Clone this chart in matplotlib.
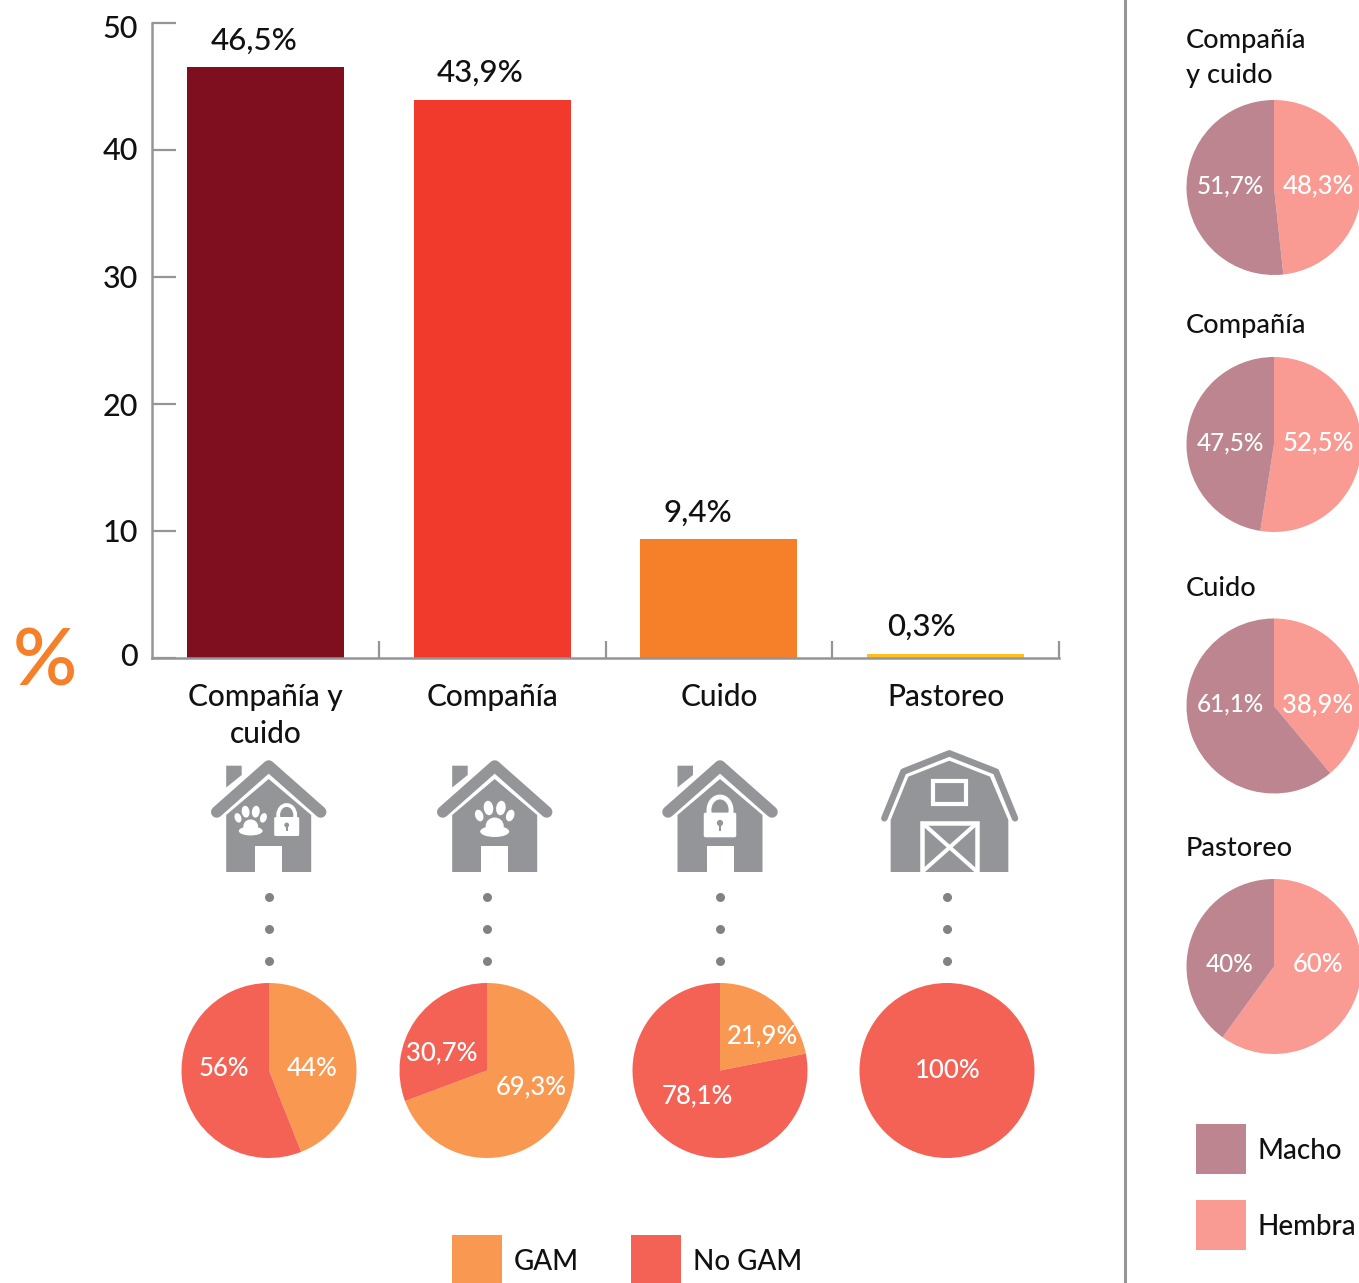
import matplotlib
matplotlib.use("Agg")
import matplotlib.pyplot as plt
from matplotlib.patches import Polygon, Rectangle, Ellipse, Circle, FancyBboxPatch
from matplotlib.transforms import ScaledTranslation

plt.rcParams["font.family"] = ["Lato", "DejaVu Sans"]
plt.rcParams["font.weight"] = "medium"

W, H = 1359, 1283
GREY = "#939598"
DOT = "#808285"
TXT = "#111111"

# ── data ──
categories = ["Compañía y\ncuido", "Compañía", "Cuido", "Pastoreo"]
uso = [46.5, 43.9, 9.4, 0.3]
uso_labels = ["46,5%", "43,9%", "9,4%", "0,3%"]
bar_colors = ["#7F0F1F", "#F13A2B", "#F58029", "#FDC01E"]
y_ticks = [0, 10, 20, 30, 40, 50]

gam = [44, 69.3, 21.9, 0]
no_gam = [56, 30.7, 78.1, 100]
gam_labels = ["44%", "69,3%", "21,9%", ""]
no_gam_labels = ["56%", "30,7%", "78,1%", "100%"]

sex_titles = ["Compañía\ny cuido", "Compañía", "Cuido", "Pastoreo"]
hembra = [48.3, 52.5, 38.9, 60]
macho = [51.7, 47.5, 61.1, 40]
hembra_labels = ["48,3%", "52,5%", "38,9%", "60%"]
macho_labels = ["51,7%", "47,5%", "61,1%", "40%"]

GAM_C, NOGAM_C = "#F99851", "#F46155"
HEMBRA_C, MACHO_C = "#F99A93", "#BC858F"

fig = plt.figure(figsize=(W / 100, H / 100), dpi=100, facecolor="white")

# ── bars ──
ax = fig.add_axes([152 / W, (H - 658) / H, 907 / W, 635 / H])
ax.bar(range(4), uso, width=0.693, color=bar_colors)
ax.set_xlim(-0.5, 3.5)
ax.set_ylim(0, 50)
ax.spines[["top", "right"]].set_visible(False)
ax.spines[["left", "bottom"]].set_color(GREY)
ax.spines[["left", "bottom"]].set_linewidth(1.8)
ax.set_yticks(y_ticks)
ax.tick_params(axis="y", direction="in", length=17, width=1.6, color=GREY,
               labelsize=22, labelcolor=TXT, pad=10)
for lab, dy in zip(ax.get_yticklabels(), [-3, -1, 0, 0, -1, 3]):
    lab.set_transform(lab.get_transform() + ScaledTranslation(0, -dy / 100, fig.dpi_scale_trans))
ax.set_xticks([0.5, 1.5, 2.5, 3.5])
ax.set_xticklabels([])
ax.tick_params(axis="x", which="major", direction="in", length=12, width=1.6, color=GREY)
ax.set_xticks(range(4), categories, minor=True)
ax.tick_params(axis="x", which="minor", length=0, labelsize=21.5, labelcolor=TXT, pad=18)
for lab in ax.get_xticklabels(minor=True):
    lab.set_linespacing(1.4)
    lab.set_verticalalignment("top")

# ── overlay in pixel coordinates ──
ov = fig.add_axes([0, 0, 1, 1], facecolor="none")


def Y(y):
    return H - y


def pie_at(vals, cols, cx, cy, r=87.5):
    ov.pie(vals, colors=cols, startangle=90, counterclock=False,
           center=(cx, Y(cy)), radius=r, frame=True)


def put(x, y, s, size=21.5, color=TXT, ha="center", **kw):
    ov.text(x, Y(y), s, fontsize=size, color=color, ha=ha, va="center", **kw)


def poly(pts, fc=GREY, **kw):
    ov.add_patch(Polygon([(x, Y(y)) for x, y in pts], closed=True, fc=fc, ec="none", **kw))


def stroke(pts, color=GREY, px=5, cap="round", join="round"):
    ov.plot([p[0] for p in pts], [Y(p[1]) for p in pts], color=color, lw=px * 0.72,
            solid_capstyle=cap, solid_joinstyle=join)


def draw_paw(cx, cy, s=1.0):
    ov.add_patch(Ellipse((cx, Y(cy + 12.5 * s)), 29 * s, 11 * s, fc="white", ec="none"))
    ov.add_patch(Ellipse((cx, Y(cy + 7 * s)), 18 * s, 17 * s, fc="white", ec="none"))
    for dx, dy, w, h, ang in [(-15.5, -3.5, 8, 12, 20), (-6.2, -11, 9.5, 14.5, 8),
                              (6.2, -11, 9.5, 14.5, -8), (15.5, -3.5, 8, 12, -20)]:
        ov.add_patch(Ellipse((cx + dx * s, Y(cy + dy * s)), w * s, h * s, angle=ang, fc="white", ec="none"))


def draw_lock(cx, top, s=1.0):
    # shackle + body + keyhole
    ov.add_patch(Ellipse((cx, Y(top + 10 * s)), 17 * s, 20 * s, fc="none", ec="white", lw=3 * s * 0.9))
    ov.add_patch(FancyBboxPatch((cx - 12.5 * s, Y(top + 31 * s)), 25 * s, 19 * s,
                                boxstyle=f"round,pad=0,rounding_size={1.5 * s}", fc="white", ec="none"))
    ov.add_patch(Circle((cx, Y(top + 20 * s)), 2.4 * s, fc=GREY, ec="none"))
    ov.add_patch(Rectangle((cx - 1.1 * s, Y(top + 26 * s)), 2.2 * s, 6 * s, fc=GREY, ec="none"))


def draw_house(cx):
    poly([(cx - 42.5, 765.7), (cx - 27, 765.7), (cx - 27, 775), (cx - 42.5, 787.5)])
    stroke([(cx - 52, 812), (cx, 766), (cx + 52, 812)], px=11.5)
    poly([(cx - 42.5, 815), (cx, 779), (cx + 42.5, 815), (cx + 42.5, 872), (cx - 42.5, 872)])
    ov.add_patch(Rectangle((cx - 13.5, Y(872)), 27, 26, fc="white", ec="none"))


def zb(x, y):
    return 640 + x / 3, 740 + y / 3


def draw_barn():
    stroke([zb(733, 235), zb(790, 95), zb(928, 40), zb(1068, 95), zb(1125, 235)], px=6.5)
    poly([zb(752, 240), zb(805, 110), zb(928, 62), zb(1050, 110), zb(1105, 240), zb(1105, 396), zb(752, 396)])
    x0, y0 = zb(880, 192)
    x1, y1 = zb(979, 124)
    ov.add_patch(Rectangle((x0, Y(y0)), x1 - x0, y0 - y1, fc="none", ec="white", lw=3))
    x0, y0 = zb(846, 396)
    x1, y1 = zb(1012, 248)
    stroke([(x0, y0), (x0, y1), (x1, y1), (x1, y0)], color="white", px=4.5, cap="butt", join="miter")
    stroke([(x0, y1), (x1, y0)], color="white", px=4, cap="butt")
    stroke([(x0, y0), (x1, y1)], color="white", px=4, cap="butt")


# ── icons ──
draw_house(268.7)
draw_paw(250.7, 820.7, 0.82)
draw_lock(286.7, 805, 1.0)
draw_house(494.7)
draw_paw(494.7, 819, 1.0)
draw_house(720)
draw_lock(720, 797, 1.3)
draw_barn()

# ── GAM pies ──
pie_x = [269, 487, 720, 947]
for x in pie_x:
    ov.scatter([x, x, x], [Y(897), Y(929), Y(961)], s=42, color=DOT, linewidths=0)
for i, x in enumerate(pie_x):
    pie_at([gam[i], no_gam[i]], [GAM_C, NOGAM_C], x, 1070.5)

gam_pos = [(312, 1069), (531, 1087), (762, 1036), None]
no_gam_pos = [(224, 1069), (442, 1053), (697, 1096), (947, 1071)]
for i in range(4):
    if gam_pos[i]:
        put(*gam_pos[i], gam_labels[i], size=18.5, color="white")
    put(*no_gam_pos[i], no_gam_labels[i], size=18.5, color="white")

# ── sex pies ──
sex_y = [187.5, 444.5, 706, 966.5]
macho_x = [1230, 1230, 1230, 1230]
for i, y in enumerate(sex_y):
    pie_at([hembra[i], macho[i]], [HEMBRA_C, MACHO_C], 1274, y)
    put(macho_x[i], y - 1.5, macho_labels[i], size=17.5, color="white")
    put(1318, y - 1.5, hembra_labels[i], size=18.5, color="white")

title_y = [58, 326, 588, 848]
for s, y in zip(sex_titles, title_y):
    put(1186, y, s, size=19.5, ha="left", linespacing=1.5)

# ── bar value labels ──
val_x = [254.5, 480, 697.5, 921.5]
val_y = [41, 73, 513, 627]
for s, x, y in zip(uso_labels, val_x, val_y):
    put(x, y, s, size=22.5)

put(45, 663, "%", size=57, color="#F58029", fontweight="semibold")

# ── separator ──
ov.plot([1125, 1125], [0, H], color=GREY, lw=2.2)

# ── legends ──
for x, y, c, s in [(452, 1235, GAM_C, "GAM"), (631, 1235, NOGAM_C, "No GAM")]:
    ov.add_patch(Rectangle((x, Y(y + 48)), 50, 48, fc=c, ec="none"))
    put(x + 62, y + 27, s, size=20, ha="left")
for x, y, c, s in [(1196, 1124, MACHO_C, "Macho"), (1196, 1200, HEMBRA_C, "Hembra")]:
    ov.add_patch(Rectangle((x, Y(y + 50)), 50, 50, fc=c, ec="none"))
    put(x + 62, y + 27, s, size=20, ha="left")

ov.set_xlim(0, W)
ov.set_ylim(0, H)
ov.set_aspect("auto")
ov.axis("off")

fig.savefig("out.png", dpi=100)
